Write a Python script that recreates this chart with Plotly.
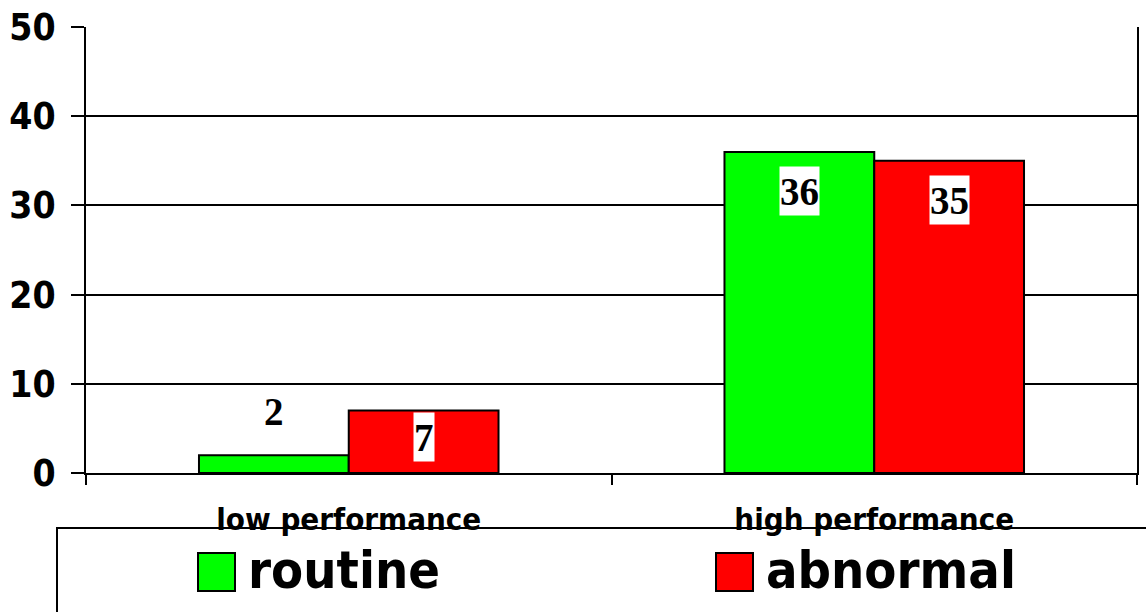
import plotly.graph_objects as go

# Data
categories = ["low performance", "high performance"]
series_names = ["routine", "abnormal"]
routine = [2, 36]
abnormal = [7, 35]
y_ticks = [0, 10, 20, 30, 40, 50]

colors = ["#00FF00", "#FF0000"]
W, H = 1146, 612
ML, MR, MT, MB = 86, 9, 27, 139
BARGAP = 0.43

sans = "DejaVu Sans Condensed, DejaVu Sans, sans-serif"
serif = "Liberation Serif, Times New Roman, serif"

fig = go.Figure()
for name, vals, col in zip(series_names, [routine, abnormal], colors):
    fig.add_trace(go.Bar(
        x=categories, y=vals, name=name,
        marker=dict(color=col, line=dict(color="black", width=2)),
        showlegend=False,
    ))

# Value labels: bar centres sit at +/- a quarter of the group width
offsets = [-(1 - BARGAP) / 4, (1 - BARGAP) / 4]

def add_label(xc, val, inside, shift):
    fig.add_annotation(
        x=xc, y=val, xref="x", yref="y", text=f"<b>{val}</b>", showarrow=False,
        font=dict(family=serif, size=39, color="black"),
        bgcolor="white" if inside else "rgba(0,0,0,0)", borderpad=0,
        height=48, valign="middle",
        yanchor="top" if inside else "bottom", yshift=shift,
    )

for i, vals in enumerate([routine, abnormal]):
    for c, v in enumerate(vals):
        if v < 5:
            add_label(c + offsets[i], v, False, 19)
        elif v < 10:
            add_label(c + offsets[i], v, True, -1)
        else:
            add_label(c + offsets[i], v, True, -14)

# Legend drawn as a framed box along the bottom
pw, ph = W - ML - MR, H - MT - MB
def px(xp):
    return (xp - ML) / pw
def py(yp):
    return (H - MB - yp) / ph

shapes = [dict(type="rect", xref="paper", yref="paper", layer="below",
               x0=px(57), x1=px(1160), y0=py(528), y1=py(630),
               line=dict(color="black", width=2), fillcolor="rgba(0,0,0,0)")]
sw_x = [198, 716]
for name, col, sx in zip(series_names, colors, sw_x):
    shapes.append(dict(type="rect", xref="paper", yref="paper",
                       x0=px(sx), x1=px(sx + 37), y0=py(591), y1=py(553),
                       line=dict(color="black", width=2), fillcolor=col))
    fig.add_annotation(x=px(sx + 48), y=py(570), xref="paper", yref="paper",
                       text=f"<b>{name}</b>", showarrow=False,
                       xanchor="left", yanchor="middle",
                       font=dict(family=sans, size=52, color="black"))

fig.update_layout(
    width=W, height=H,
    margin=dict(l=ML, r=MR, t=MT, b=MB, autoexpand=False),
    paper_bgcolor="white", plot_bgcolor="white",
    barmode="group", bargap=BARGAP, bargroupgap=0,
    shapes=shapes,
    xaxis=dict(
        type="category", tickvals=categories, ticktext=[f"<b>{c}</b>" for c in categories],
        range=[-0.5, len(categories) - 0.5],
        tickson="boundaries", ticks="outside", ticklen=10, tickwidth=2, tickcolor="black",
        showline=True, linecolor="black", linewidth=2, showgrid=False,
        tickfont=dict(family=sans, size=31, color="black"), ticklabelstandoff=18,
    ),
    yaxis=dict(
        range=[0, 50], tickvals=y_ticks, ticktext=[f"<b>{t}</b>" for t in y_ticks],
        ticks="outside", ticklen=13, tickwidth=2, tickcolor="black",
        showline=True, linecolor="black", linewidth=2, mirror=True,
        showgrid=True, gridcolor="black", gridwidth=2, zeroline=False,
        tickfont=dict(family=sans, size=37, color="black"), ticklabelstandoff=8,
    ),
)

fig.write_html("out.html")
